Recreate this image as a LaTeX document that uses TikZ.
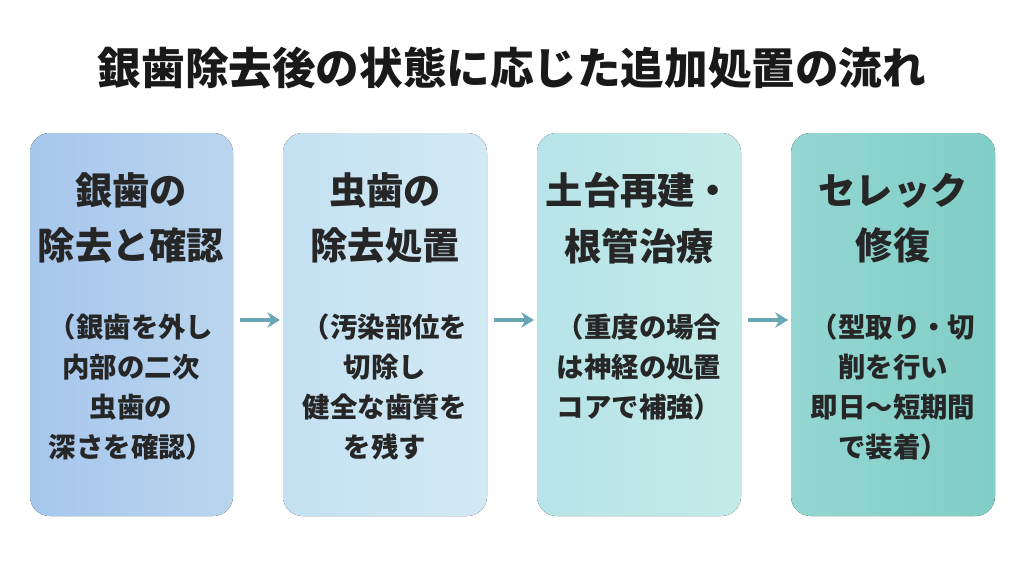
\documentclass[tikz,border=0pt]{standalone}
\usepackage{fontspec}
\setmainfont{Noto Sans CJK JP}
\usetikzlibrary{arrows.meta}
\begin{document}
\begin{tikzpicture}[x=0.025cm,y=-0.025cm,
  box/.style={rounded corners=14pt,draw=none},
  head/.style={font=\bfseries\fontsize{26.5}{39.5}\selectfont,align=center,text=black!85},
  body/.style={font=\bfseries\fontsize{19.5}{28.5}\selectfont,align=center,text=black!85},
  arr/.style={-{Stealth[length=9pt,width=11pt]},line width=3pt,draw=arrowc}]
\definecolor{arrowc}{HTML}{6AA6B3}
\useasboundingbox (0,0) rectangle (1024,572);
\node[font=\bfseries\fontsize{31}{36}\selectfont,text=black!90] (title) at (512,68) {銀歯除去後の状態に応じた追加処置の流れ};
\fill[box,left color={rgb,255:red,166;green,198;blue,236},right color={rgb,255:red,186;green,214;blue,238}] (30,133) rectangle (233,516);
\fill[box,left color={rgb,255:red,196;green,225;blue,242},right color={rgb,255:red,210;green,233;blue,244}] (283,133) rectangle (487,516);
\fill[box,left color={rgb,255:red,183;green,228;blue,232},right color={rgb,255:red,196;green,234;blue,232}] (537,133) rectangle (741,516);
\fill[box,left color={rgb,255:red,148;green,214;blue,210},right color={rgb,255:red,128;green,206;blue,198}] (791,133) rectangle (995,516);
\node[head] (h1) at (131,218) {銀歯の\\除去と確認};
\node[head] (h2) at (385,218) {虫歯の\\除去処置};
\node[head] (h3) at (639,218) {土台再建・\\根管治療};
\node[head] (h4) at (893,218) {セレック\\修復};
\node[body] (b1) at (131,387) {（銀歯を外し\\内部の二次\\虫歯の\\深さを確認）};
\node[body] (b2) at (385,387) {（汚染部位を\\切除し\\健全な歯質を\\を残す};
\node[body] (b3) at (639,367) {（重度の場合\\は神経の処置\\コアで補強）};
\node[body] (b4) at (893,387) {（型取り・切\\削を行い\\即日〜短期間\\で装着）};
\coordinate (a1s) at (240,320); \coordinate (a1e) at (280,320);
\coordinate (a2s) at (494,320); \coordinate (a2e) at (534,320);
\coordinate (a3s) at (748,320); \coordinate (a3e) at (788,320);
\draw[arr] (a1s) -- (a1e);
\draw[arr] (a2s) -- (a2e);
\draw[arr] (a3s) -- (a3e);
\end{tikzpicture}
\end{document}
